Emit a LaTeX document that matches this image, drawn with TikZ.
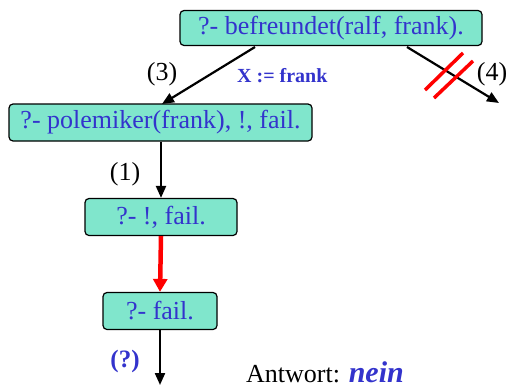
\documentclass[tikz,border=0pt]{standalone}
\usepackage{fontspec}
\setmainfont{Liberation Serif}
\usetikzlibrary{arrows.meta}
\definecolor{boxfill}{HTML}{80E6CC}
\definecolor{txtblue}{HTML}{3333CC}
\definecolor{redc}{HTML}{FF0000}
\begin{document}
\begin{tikzpicture}[x=1pt,y=-1pt,
  goal/.style={draw=black,line width=1.2pt,fill=boxfill,rounded corners=4pt,text=txtblue,
    font=\fontsize{26}{28}\selectfont,inner sep=0pt,anchor=center},
  conn/.style={line width=2.2pt,-{Triangle[length=12pt,width=10pt]}},
  lbl/.style={font=\fontsize{26}{28}\selectfont,inner sep=0pt}]
\useasboundingbox (0,0) rectangle (508,388);
\node[goal,minimum width=302pt,minimum height=35pt] (top) at (331,28) {?- befreundet(ralf, frank).};
\node[goal,minimum width=303pt,minimum height=37pt] (pol) at (160.5,122.5) {?- polemiker(frank), !, fail.};
\node[goal,minimum width=152pt,minimum height=37pt] (cut) at (161,217) {?- !, fail.};
\node[goal,minimum width=114pt,minimum height=37pt] (fail) at (160,311) {?- fail.};
\coordinate (s3) at (255,47);
\coordinate (e3) at (162,104);
\coordinate (s4) at (407,47);
\coordinate (r4) at (499,103);
\coordinate (bot) at (160,385);
\draw[conn] (s3) -- (e3);
\draw[conn] (s4) -- (r4);
\draw[conn] (pol.south -| cut.north) -- (cut.north);
\draw[line width=4.5pt,draw=redc,-{Triangle[length=13pt,width=14pt]},color=redc] (cut.south) -- (fail.north);
\draw[conn] (fail.south) -- (bot);
\draw[redc,line width=3.5pt] (425,90) -- (463,53);
\draw[redc,line width=3.5pt] (434,98) -- (473,61);
\node[lbl] (l3) at (162,74) {(3)};
\node[lbl] (l4) at (492,74) {(4)};
\node[lbl] (l1) at (125,174) {(1)};
\node[font=\bfseries\fontsize{20}{22}\selectfont,text=txtblue,inner sep=0pt,anchor=west] (x) at (237,76) {X := frank};
\node[font=\bfseries\fontsize{25}{27}\selectfont,text=txtblue,inner sep=0pt] (q) at (125,361) {(?)};
\node[font=\fontsize{26}{28}\selectfont,inner sep=0pt,anchor=base west] (ans) at (246,382) {Antwort: \textcolor{txtblue}{\fontsize{30}{31}\selectfont\textbf{\textit{nein}}}};
\end{tikzpicture}
\end{document}
